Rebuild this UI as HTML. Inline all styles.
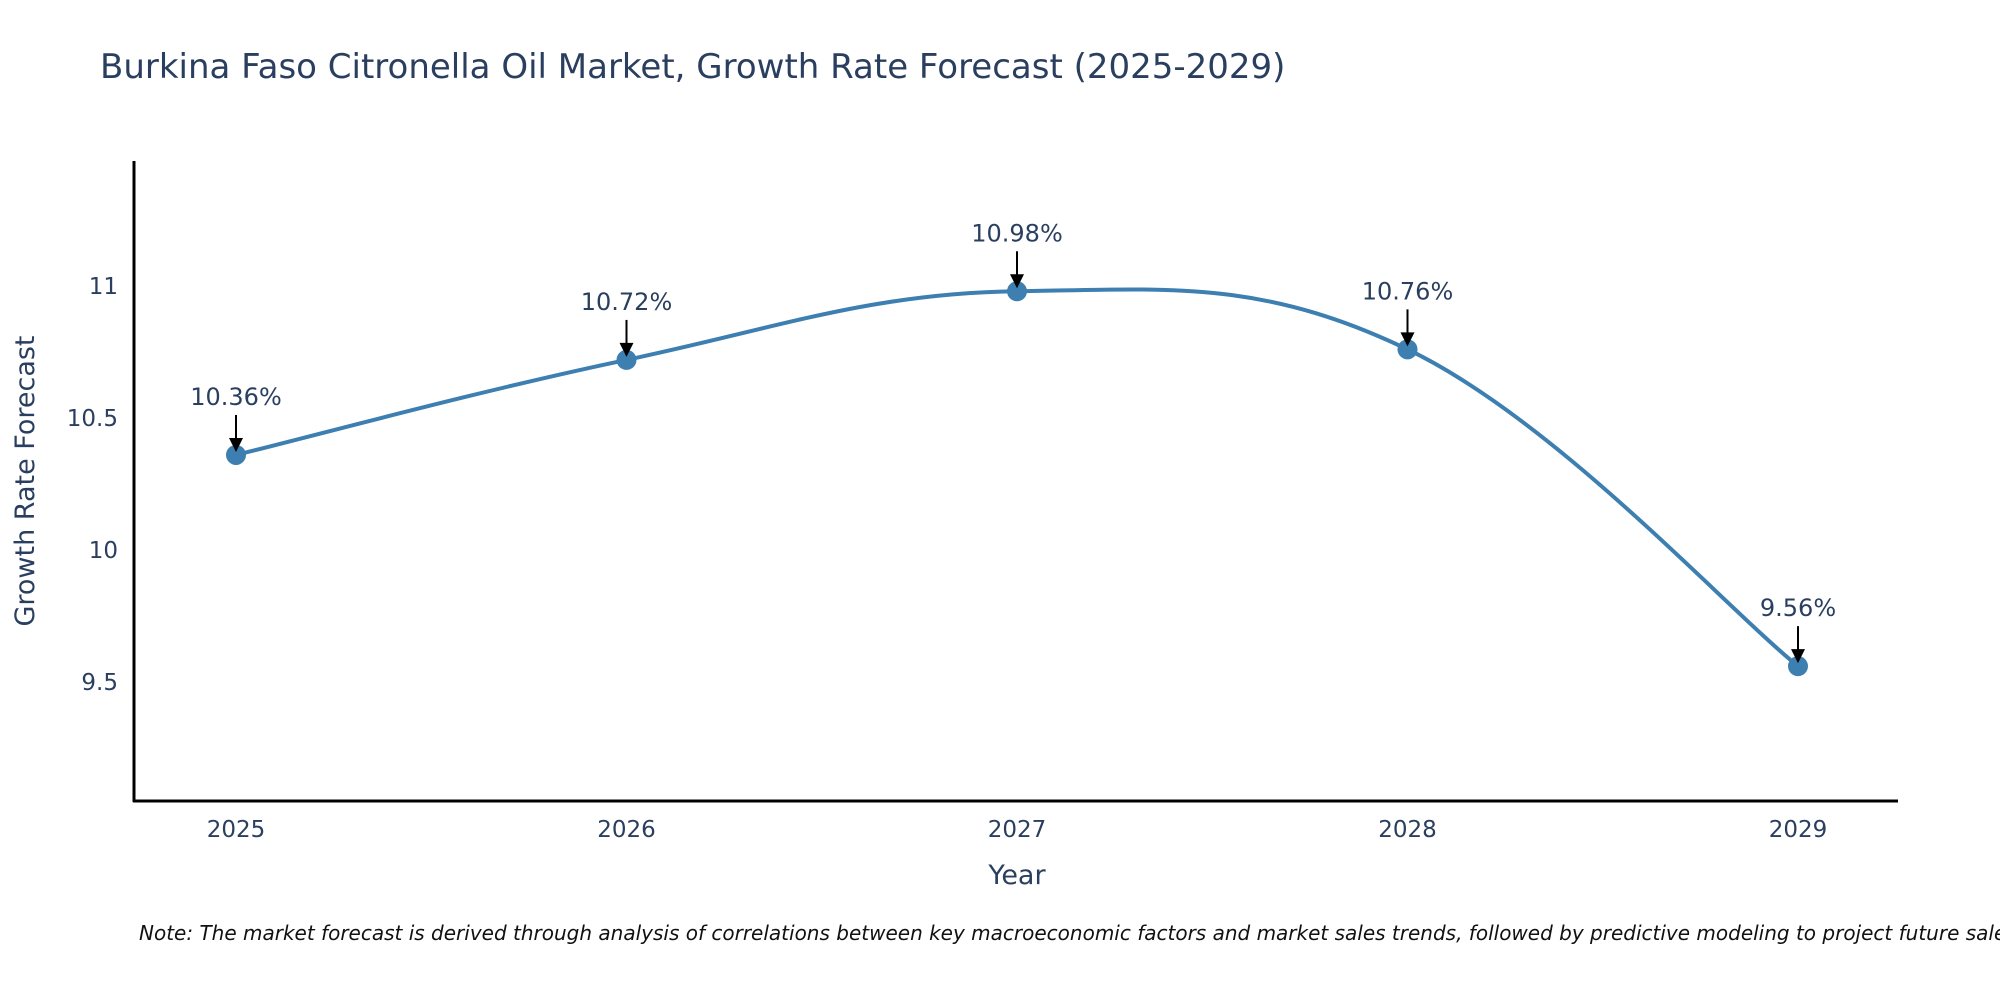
<!DOCTYPE html>
<html><head><meta charset="utf-8"><style>
body{margin:0;background:#fff}
svg text{font-family:"DejaVu Sans","Liberation Sans",sans-serif;fill:#2a3f5f}
</style></head><body>
<svg id="c" width="2000" height="1000">
<text x="100" y="78" font-size="34">Burkina Faso Citronella Oil Market, Growth Rate Forecast (2025-2029)</text>
<g id="yt"></g><g id="xt"></g>
<path id="ln" fill="none" stroke="#3d7fb0" stroke-width="4"/>
<g id="pts"></g>
<line x1="134" y1="161" x2="134" y2="802" stroke="#000" stroke-width="3"/>
<line x1="133" y1="801" x2="1898" y2="801" stroke="#000" stroke-width="3"/>
<text x="1017" y="884" font-size="27" text-anchor="middle">Year</text>
<text transform="translate(34,481) rotate(-90)" font-size="27" text-anchor="middle">Growth Rate Forecast</text>
<text x="139" y="940" font-size="20" font-style="italic" style="fill:#111">Note: The market forecast is derived through analysis of correlations between key macroeconomic factors and market sales trends, followed by predictive modeling to project future sales.</text>
</svg>
<script>
const years=[2025,2026,2027,2028,2029];
const values=[10.36,10.72,10.98,10.76,9.56];
const labels=["10.36%","10.72%","10.98%","10.76%","9.56%"];
const yTicks=[9.5,10,10.5,11];
const ns="http://www.w3.org/2000/svg";
const X=v=>236+(v-2025)*390.5;
const Y=v=>286+(11-v)*264;
function mk(t,a,p){const e=document.createElementNS(ns,t);for(const k in a)e.setAttribute(k,a[k]);p.appendChild(e);return e;}
const yt=document.getElementById('yt'),xt=document.getElementById('xt'),pts=document.getElementById('pts');
yTicks.forEach(v=>{const t=mk('text',{x:118,y:Y(v)+8,'font-size':23,'text-anchor':'end'},yt);t.textContent=v;

});
years.forEach(v=>{const t=mk('text',{x:X(v),y:837,'font-size':23,'text-anchor':'middle'},xt);t.textContent=v;

});
const P=years.map((y,i)=>[X(y),Y(values[i])]);
let d=`M${P[0][0]},${P[0][1]}`;const s=0.38;
for(let i=0;i<P.length-1;i++){const p0=P[Math.max(0,i-1)],p1=P[i],p2=P[i+1],p3=P[Math.min(P.length-1,i+2)];
const c1=[p1[0]+(p2[0]-p0[0])*s/2,p1[1]+(p2[1]-p0[1])*s/2],c2=[p2[0]-(p3[0]-p1[0])*s/2,p2[1]-(p3[1]-p1[1])*s/2];
d+=` C${c1[0]},${c1[1]} ${c2[0]},${c2[1]} ${p2[0]},${p2[1]}`;}
document.getElementById('ln').setAttribute('d',d);
P.forEach((p,i)=>{const c=mk('circle',{cx:p[0],cy:p[1],r:10,fill:'#3d7fb0'},pts);


const l=mk('line',{x1:p[0],y1:p[1]-40,x2:p[0],y2:p[1]-14,stroke:'#000','stroke-width':2},pts);


const a=mk('path',{d:`M${p[0]-7},${p[1]-17} L${p[0]+7},${p[1]-17} L${p[0]},${p[1]-3} Z`,fill:'#000'},pts);


const t=mk('text',{x:p[0],y:p[1]-50,'font-size':24,'text-anchor':'middle'},pts);t.textContent=labels[i];

});
</script>
</body></html>
